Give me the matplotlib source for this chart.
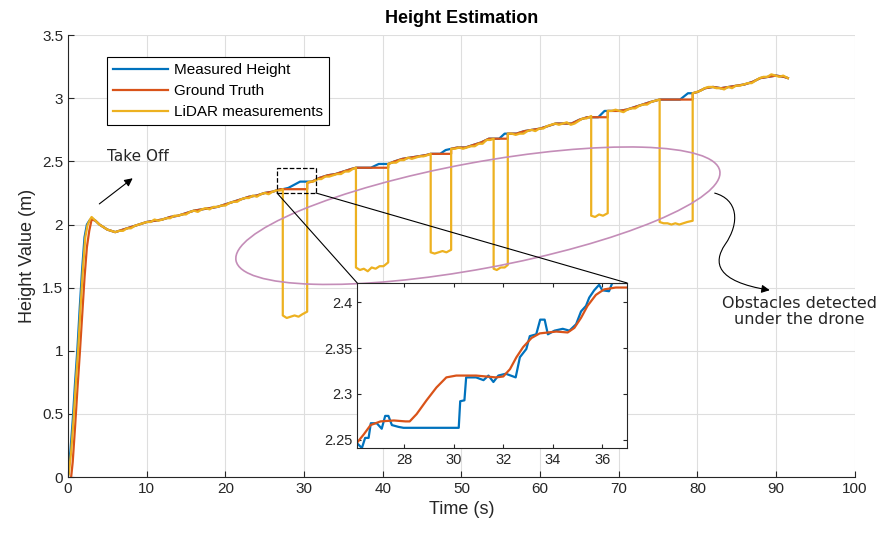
import matplotlib
matplotlib.use('Agg')
import matplotlib.pyplot as plt
from matplotlib.patches import Rectangle, Ellipse, ConnectionPatch, FancyArrowPatch
from matplotlib.path import Path
from matplotlib.transforms import ScaledTranslation

plt.rcParams['font.family'] = ['Liberation Sans', 'DejaVu Sans']

# Daten
# LiDAR-Messung (Zeit in s, Höhe in m)
t_lidar = [0.1, 0.4, 0.7, 1.0, 1.3, 1.6, 1.9, 2.2, 2.5, 2.8, 3.0,
           3.5, 4.0, 4.5, 5.0, 5.5, 6.0, 6.5, 7.0, 7.5, 8.0, 8.5, 9.0, 9.5,
           10.0, 10.5, 11.0, 11.5, 12.0, 12.5, 13.0, 13.5, 14.0, 14.5, 15.0,
           15.5, 16.0, 16.5, 17.0, 17.5, 18.0, 18.5, 19.0, 19.5, 20.0, 20.5,
           21.0, 21.5, 22.0, 22.5, 23.0, 23.5, 24.0, 24.5, 25.0, 25.5, 26.0,
           26.5, 27.0, 27.3,
           27.3, 27.8, 28.3, 28.8, 29.3, 29.8, 30.4,
           30.4, 30.7, 31.2, 31.7, 32.2, 32.7, 33.2, 33.7, 34.2, 34.7, 35.2,
           35.7, 36.2, 36.6,
           36.6, 37.1, 37.6, 38.1, 38.6, 39.1, 39.6, 40.1, 40.7,
           40.7, 41.2, 41.7, 42.2, 42.7, 43.2, 43.7, 44.2, 44.7, 45.2, 45.7, 46.1,
           46.1, 46.6, 47.1, 47.6, 48.1, 48.7,
           48.7, 49.2, 49.7, 50.2, 50.7, 51.2, 51.7, 52.2, 52.7, 53.2, 53.7, 54.1,
           54.1, 54.5, 55.0, 55.5, 55.9,
           55.9, 56.4, 56.9, 57.4, 57.9, 58.4, 58.9, 59.4, 59.9, 60.4, 60.9,
           61.4, 61.9, 62.4, 62.9, 63.4, 63.9, 64.4, 64.9, 65.4, 65.9, 66.5,
           66.5, 67.0, 67.5, 68.0, 68.6,
           68.6, 69.1, 69.6, 70.1, 70.6, 71.1, 71.6, 72.1, 72.6, 73.1, 73.6,
           74.1, 74.6, 75.2,
           75.2, 75.7, 76.2, 76.7, 77.2, 77.7, 78.2, 78.7, 79.4,
           79.4, 79.9, 80.4, 80.9, 81.4, 81.9, 82.4, 82.9, 83.4, 83.9, 84.4,
           84.9, 85.4, 85.9, 86.4, 86.9, 87.4, 87.9, 88.4, 88.9, 89.4, 89.9,
           90.4, 90.9, 91.5]
h_lidar = [0.02, 0.20, 0.45, 0.75, 1.02, 1.35, 1.65, 1.90, 2.00, 2.04, 2.06,
           2.03, 2.00, 1.98, 1.96, 1.95, 1.94, 1.95, 1.95, 1.97, 1.97, 1.99, 2.00, 2.01,
           2.02, 2.02, 2.04, 2.03, 2.04, 2.05, 2.05, 2.07, 2.07, 2.08, 2.08,
           2.10, 2.11, 2.10, 2.12, 2.13, 2.12, 2.14, 2.14, 2.15, 2.15, 2.17,
           2.18, 2.18, 2.20, 2.21, 2.21, 2.23, 2.22, 2.24, 2.25, 2.24, 2.26,
           2.27, 2.27, 2.28,
           1.28, 1.26, 1.27, 1.28, 1.27, 1.29, 1.31,
           2.33, 2.34, 2.34, 2.36, 2.36, 2.38, 2.38, 2.39, 2.40, 2.40, 2.42,
           2.42, 2.44, 2.45,
           1.66, 1.64, 1.65, 1.63, 1.66, 1.65, 1.67, 1.67, 1.70,
           2.48, 2.49, 2.49, 2.51, 2.51, 2.53, 2.52, 2.53, 2.54, 2.54, 2.55, 2.56,
           1.78, 1.77, 1.78, 1.79, 1.78, 1.80,
           2.60, 2.60, 2.61, 2.60, 2.61, 2.62, 2.62, 2.64, 2.64, 2.67, 2.67, 2.68,
           1.65, 1.64, 1.66, 1.66, 1.68,
           2.72, 2.72, 2.71, 2.72, 2.72, 2.74, 2.75, 2.74, 2.76, 2.76, 2.78,
           2.79, 2.80, 2.79, 2.80, 2.81, 2.79, 2.80, 2.82, 2.84, 2.84, 2.86,
           2.07, 2.06, 2.08, 2.07, 2.09,
           2.90, 2.90, 2.91, 2.90, 2.89, 2.91, 2.92, 2.92, 2.94, 2.95, 2.95,
           2.97, 2.98, 2.99,
           2.02, 2.01, 2.01, 2.00, 2.01, 2.00, 2.01, 2.02, 2.03,
           3.04, 3.05, 3.06, 3.08, 3.09, 3.09, 3.08, 3.08, 3.07, 3.09, 3.08,
           3.10, 3.10, 3.11, 3.12, 3.12, 3.14, 3.16, 3.17, 3.17, 3.19, 3.18,
           3.17, 3.18, 3.16]

# Ground Truth
t_truth = [0.4, 0.6, 0.9, 1.2, 1.5, 1.8, 2.1, 2.4, 2.7, 3.0, 3.5, 4, 5, 6, 7,
           8, 9, 10, 11, 12, 13, 14, 15, 16, 17, 18, 19, 20, 21, 22, 23, 24,
           25, 26, 27, 27.3, 30.4, 30.4, 31, 32, 33, 34, 35, 36, 36.6, 40.7,
           40.7, 41.5, 42.5, 43.5, 44.5, 45.5, 46.1, 48.7, 48.7, 49.5, 50.5,
           51.5, 52.5, 53.5, 54.1, 55.9, 55.9, 57, 58, 59, 60, 61, 62, 63, 64,
           65, 66, 66.5, 68.6, 68.6, 70, 71, 72, 73, 74, 75.2, 79.4, 79.4, 80,
           81, 82, 83, 84, 85, 86, 87, 88, 89, 90, 91, 91.5]
h_truth = [0.0, 0.12, 0.40, 0.70, 0.98, 1.28, 1.58, 1.82, 1.95, 2.04, 2.03,
           2.00, 1.96, 1.94, 1.96, 1.98, 2.00, 2.02, 2.03, 2.04, 2.06, 2.07,
           2.09, 2.11, 2.12, 2.13, 2.14, 2.16, 2.18, 2.20, 2.22, 2.23, 2.25,
           2.26, 2.28, 2.28, 2.28, 2.33, 2.34, 2.37, 2.39, 2.40, 2.42, 2.44,
           2.45, 2.45, 2.48, 2.50, 2.52, 2.53, 2.54, 2.55, 2.56, 2.56, 2.60,
           2.61, 2.61, 2.63, 2.65, 2.68, 2.68, 2.68, 2.72, 2.72, 2.74, 2.75,
           2.76, 2.78, 2.80, 2.80, 2.80, 2.83, 2.85, 2.85, 2.85, 2.90, 2.90,
           2.91, 2.93, 2.95, 2.97, 2.99, 2.99, 3.04, 3.05, 3.08, 3.09, 3.08,
           3.09, 3.10, 3.11, 3.13, 3.16, 3.17, 3.18, 3.17, 3.16]

# Gemessene Höhe
t_meas = [0.0, 0.3, 0.6, 0.9, 1.2, 1.5, 1.8, 2.1, 2.4, 2.7, 3.0, 3.5, 4, 5, 6,
          7, 8, 9, 10, 11, 12, 13, 14, 15, 16, 17, 18, 19, 20, 21, 22, 23, 24,
          25, 26, 27, 27.3, 28.0, 28.6, 29.5, 30.4, 31, 32, 33, 34, 35, 36,
          36.6, 38.5, 39.5, 40.7, 41.5, 42.5, 43.5, 44.5, 45.5, 46.1, 47.3,
          48.0, 48.7, 49.5, 50.5, 51.5, 52.5, 53.5, 54.1, 54.8, 55.5, 55.9,
          57, 58, 59, 60, 61, 62, 63, 64, 65, 66, 66.5, 67.4, 68.2, 68.6, 70,
          71, 72, 73, 74, 75.2, 77.8, 78.8, 79.4, 80, 81, 82, 83, 84, 85, 86,
          87, 88, 89, 90, 91, 91.5]
h_meas = [0.07, 0.20, 0.45, 0.75, 1.02, 1.35, 1.65, 1.90, 2.00, 2.03, 2.05,
          2.03, 2.00, 1.96, 1.94, 1.96, 1.98, 2.00, 2.02, 2.03, 2.04, 2.06,
          2.07, 2.09, 2.11, 2.12, 2.13, 2.14, 2.16, 2.18, 2.20, 2.22, 2.23,
          2.25, 2.26, 2.28, 2.28, 2.29, 2.31, 2.34, 2.34, 2.34, 2.37, 2.39,
          2.40, 2.42, 2.44, 2.45, 2.45, 2.48, 2.48, 2.50, 2.52, 2.53, 2.54,
          2.55, 2.56, 2.56, 2.59, 2.60, 2.61, 2.61, 2.63, 2.65, 2.68, 2.68,
          2.68, 2.72, 2.72, 2.72, 2.74, 2.75, 2.76, 2.78, 2.80, 2.80, 2.80,
          2.83, 2.85, 2.85, 2.85, 2.90, 2.90, 2.90, 2.91, 2.93, 2.95, 2.97,
          2.99, 2.99, 3.04, 3.04, 3.05, 3.08, 3.09, 3.08, 3.09, 3.10, 3.11,
          3.13, 3.16, 3.17, 3.18, 3.17, 3.16]

# Zoom-Ausschnitt (Inset)
t_ins_truth = [26.1, 26.37, 26.64, 27.04, 27.58, 28.05, 28.22, 28.5, 28.9,
               29.3, 29.7, 30.1, 30.9, 31.7, 32.0, 32.27, 32.53, 32.8, 33.14,
               33.47, 34.14, 34.6, 34.87, 35.14, 35.4, 35.74, 36.07, 36.54, 37.0]
h_ins_truth = [2.247, 2.256, 2.266, 2.270, 2.271, 2.270, 2.270, 2.278, 2.293,
               2.307, 2.318, 2.320, 2.320, 2.318, 2.319, 2.327, 2.340, 2.351,
               2.361, 2.366, 2.368, 2.367, 2.372, 2.383, 2.396, 2.408, 2.414,
               2.416, 2.416]
t_ins_meas = [26.1, 26.29, 26.42, 26.56, 26.65, 26.89, 27.09, 27.23, 27.36,
              27.5, 27.77, 27.97, 30.2, 30.26, 30.43, 30.5, 30.9, 31.2, 31.4,
              31.6, 31.8, 32.1, 32.4, 32.5, 32.67, 32.93, 33.07, 33.33, 33.49,
              33.67, 33.8, 34.07, 34.4, 34.67, 34.94, 35.14, 35.34, 35.47,
              35.67, 35.87, 36.0, 36.27, 36.4, 37.0]
h_ins_meas = [2.246, 2.241, 2.252, 2.252, 2.268, 2.268, 2.262, 2.276, 2.276,
              2.266, 2.264, 2.263, 2.263, 2.292, 2.293, 2.318, 2.318, 2.315,
              2.320, 2.313, 2.320, 2.322, 2.319, 2.318, 2.340, 2.349, 2.363,
              2.365, 2.381, 2.381, 2.365, 2.369, 2.371, 2.369, 2.376, 2.390,
              2.396, 2.405, 2.413, 2.419, 2.413, 2.412, 2.421, 2.421]

c_blue = '#0072BD'
c_orange = '#D95319'
c_yellow = '#EDB120'
c_text = '#262626'

fig = plt.figure(figsize=(8.82, 5.33), dpi=100)
ax = fig.add_axes([0.0771, 0.105, 0.892, 0.829])

ax.plot(t_meas, h_meas, color=c_blue, lw=1.6, label='Measured Height')
ax.plot(t_truth, h_truth, color=c_orange, lw=1.6, label='Ground Truth')
ax.plot(t_lidar, h_lidar, color=c_yellow, lw=1.6, label='LiDAR measurements')

ax.set_xlim(0, 100)
ax.set_ylim(0, 3.5)
ax.set_xticks(range(0, 101, 10))
ax.set_yticks([0, 0.5, 1, 1.5, 2, 2.5, 3, 3.5])
ax.set_yticklabels(['0', '0.5', '1', '1.5', '2', '2.5', '3', '3.5'])
ax.grid(True, color='#dedede', lw=0.8)
ax.set_axisbelow(True)
for s in ['top', 'right']:
    ax.spines[s].set_visible(False)
for s in ['left', 'bottom']:
    ax.spines[s].set_color(c_text)
    ax.spines[s].set_linewidth(0.8)
ax.tick_params(direction='in', length=4, width=0.8, colors=c_text, labelsize=11)
ax.set_xlabel('Time (s)', fontsize=13, color=c_text)
ax.set_ylabel('Height Value (m)', fontsize=13, color=c_text)
ax.set_title('Height Estimation', fontsize=13, fontweight='bold', color='k', pad=9)

leg = ax.legend(loc='upper left', bbox_to_anchor=(0.0496, 0.950), borderaxespad=0,
                fontsize=11, handlelength=3.6, handletextpad=0.4, labelspacing=0.45,
                fancybox=False, framealpha=1, edgecolor='k', borderpad=0.4)
leg.get_frame().set_linewidth(0.8)

# Take Off
ax.text(5.0, 2.54, 'Take Off', family='DejaVu Sans', fontsize=11, color=c_text,
        va='center', ha='left')
ax.annotate('', xy=(8.5, 2.38), xytext=(3.7, 2.15),
            arrowprops=dict(arrowstyle='-|>', lw=0.8, color='k', mutation_scale=12))

# Rechteck + Verbindungslinien
ax.add_patch(Rectangle((26.56, 2.25), 4.95, 0.197, fill=False, ls='--', lw=0.9,
                       ec='k', zorder=5))

# Ellipse (in Pixel-Größen, zentriert auf Datenpunkt)
ell = Ellipse((0, 0), 4.92, 1.06, angle=10.5, fill=False, ec='#C48DB8', lw=1.2,
              transform=fig.dpi_scale_trans + ScaledTranslation(52.1, 2.07, ax.transData),
              zorder=6)
ax.add_patch(ell)

# Geschwungener Pfeil zu "Obstacles detected"
verts = [(82.2, 2.249), (85.1, 2.20), (85.5, 2.02), (83.5, 1.84),
         (82.0, 1.70), (82.3, 1.55), (89.2, 1.48)]
codes = [Path.MOVETO, Path.CURVE4, Path.CURVE4, Path.CURVE4,
         Path.CURVE4, Path.CURVE4, Path.CURVE4]
ax.add_patch(FancyArrowPatch(path=Path(verts, codes), arrowstyle='-|>',
                             mutation_scale=12, lw=0.8, color='k', zorder=6))
ax.text(93.0, 1.31, 'Obstacles detected\nunder the drone', family='DejaVu Sans',
        fontsize=11.5, color=c_text, ha='center', va='center', linespacing=1.05)

# Inset
axins = fig.add_axes([0.405, 0.1595, 0.306, 0.3096])
axins.plot(t_ins_meas, h_ins_meas, color=c_blue, lw=1.6)
axins.plot(t_ins_truth, h_ins_truth, color=c_orange, lw=1.6)
axins.set_xlim(26.1, 37.0)
axins.set_ylim(2.241, 2.421)
axins.set_xticks([28, 30, 32, 34, 36])
axins.set_yticks([2.25, 2.3, 2.35, 2.4])
axins.set_yticklabels(['2.25', '2.3', '2.35', '2.4'])
axins.tick_params(direction='in', length=3, width=0.8, colors=c_text, labelsize=10.5,
                  top=True, right=True)
for s in axins.spines.values():
    s.set_color(c_text)
    s.set_linewidth(0.8)

for xa, xb in [((26.56, 2.25), (0, 1)), ((31.51, 2.25), (1, 1))]:
    con = ConnectionPatch(xyA=xa, coordsA=ax.transData, xyB=xb, coordsB=axins.transAxes,
                          color='k', lw=0.8)
    fig.add_artist(con)

fig.savefig('out.png', dpi=100)
